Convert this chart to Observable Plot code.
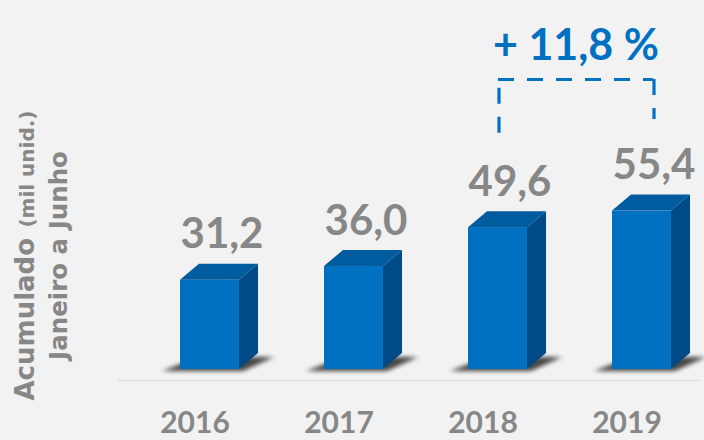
<!DOCTYPE html>
<html>
<head>
<meta charset="utf-8">
<script src="https://cdn.jsdelivr.net/npm/d3@7"></script>
<script src="https://cdn.jsdelivr.net/npm/@observablehq/plot@0.6"></script>
<style>
  html, body { margin: 0; padding: 0; background: #f2f2f2; }
  #chart { width: 704px; height: 440px; overflow: hidden; }
</style>
</head>
<body>
<div id="chart"></div>
<script>
// ---- data ----
const years = ["2016", "2017", "2018", "2019"];
const values = [31.2, 36.0, 49.6, 55.4];
const growthLabel = "+ 11,8 %";
const growthFrom = "2018";
const growthTo = "2019";
const axisTitle = "Acumulado";
const axisUnit = "(mil unid.)";
const axisSub = "Janeiro a Junho";

const data = years.map((year, i) => ({year, value: values[i]}));
const fmt = v => v.toFixed(1).replace(".", ",");

// ---- style ----
const FONT = "Lato, 'DejaVu Sans', sans-serif";
const TFONT = "'DejaVu Sans', sans-serif";
const GRAY = "#878787";
const BLUE = "#0070c0";
const TOP = "#005b9f";
const SIDE = "#004a85";
const DEPTH_X = 19, DEPTH_Y = 16;

function bar3d(index, scales, vals, dims, ctx, next) {
  const g = next(index, scales, vals, dims, ctx);
  const ns = "http://www.w3.org/2000/svg";
  const defs = document.createElementNS(ns, "defs");
  defs.innerHTML = '<filter id="shblur" x="-50%" y="-200%" width="200%" height="500%"><feGaussianBlur stdDeviation="2.2"/></filter>';
  g.insertBefore(defs, g.firstChild);
  const rects = Array.from(g.querySelectorAll("rect"));
  for (const r of rects) {
    const x = +r.getAttribute("x"), y = +r.getAttribute("y");
    const w = +r.getAttribute("width"), h = +r.getAttribute("height");
    const b = y + h;
    const poly = (pts, fill, extra) => {
      const p = document.createElementNS(ns, "polygon");
      p.setAttribute("points", pts.map(q => q.join(",")).join(" "));
      p.setAttribute("fill", fill);
      if (extra) for (const k in extra) p.setAttribute(k, extra[k]);
      return p;
    };
    const shadow = poly([[x - 18, b + 2], [x + w + 4, b + 2], [x + w + DEPTH_X + 16, b - DEPTH_Y + 4], [x + DEPTH_X, b - DEPTH_Y + 4]],
      "#2a2a2a", {filter: "url(#shblur)", opacity: 0.85});
    r.parentNode.insertBefore(shadow, r);
    const top = poly([[x, y], [x + DEPTH_X, y - DEPTH_Y], [x + w + DEPTH_X, y - DEPTH_Y], [x + w, y]], TOP);
    const side = poly([[x + w, y], [x + w + DEPTH_X, y - DEPTH_Y], [x + w + DEPTH_X, b - DEPTH_Y], [x + w, b]], SIDE);
    r.parentNode.appendChild(top);
    r.parentNode.appendChild(side);
  }
  return g;
}

const maxV = d3.max(values);
const legLeft = values[years.indexOf(growthFrom)] + 33;
const legRight = values[years.indexOf(growthTo)] + 32;
const bracketTop = maxV + 46;
const dash = {stroke: BLUE, strokeWidth: 3.2, strokeDasharray: "16,13"};

const chart = Plot.plot({
  width: 704,
  height: 440,
  marginLeft: 118,
  marginRight: 4,
  marginTop: 83,
  marginBottom: 71,
  style: {background: "#f2f2f2", fontFamily: FONT, fontWeight: "bold", color: GRAY, overflow: "visible"},
  x: {domain: years, paddingInner: 0.593, paddingOuter: 0.3035, align: 0.68, axis: null, label: null},
  y: {domain: [0, 100], axis: null, label: null},
  marks: [
    Plot.ruleY([0], {dy: 11, stroke: "#dddddd", strokeWidth: 1.5}),
    Plot.axisX({tickSize: 0, tickPadding: 42, fontSize: 30, fontWeight: "bold", fill: GRAY, dx: -15, fontFamily: FONT, label: null}),
    Plot.barY(data, {x: "year", y: "value", fill: BLUE, render: bar3d}),
    Plot.text(data, {x: "year", y: "value", text: d => fmt(d.value), dx: 12, dy: -32, lineAnchor: "bottom",
      fontSize: 42, fontWeight: "bold", fill: GRAY, fontFamily: FONT}),
    Plot.ruleX([growthFrom], {x: d => d, y1: legLeft, y2: bracketTop, dx: 1, ...dash}),
    Plot.ruleY([bracketTop], {x1: () => growthFrom, x2: () => growthTo, insetLeft: 30, insetRight: 18, ...dash}),
    Plot.ruleX([growthTo], {x: d => d, y1: bracketTop, y2: legRight, dx: 12, ...dash}),
    Plot.text([growthLabel], {x: [growthFrom], text: d => d, frameAnchor: "top", lineAnchor: "bottom", dx: 78, dy: -24,
      fontSize: 43, fontWeight: "bold", fill: BLUE, fontFamily: FONT}),
    Plot.text([axisTitle], {frameAnchor: "left", rotate: -90, textAnchor: "start", lineAnchor: "middle", dx: -93, dy: 174,
      fontSize: 26, fontWeight: "bold", fill: GRAY, fontFamily: TFONT}),
    Plot.text([axisUnit], {frameAnchor: "left", rotate: -90, textAnchor: "end", lineAnchor: "middle", dx: -91, dy: -116,
      fontSize: 20, fontWeight: "bold", fill: GRAY, fontFamily: TFONT}),
    Plot.text([axisSub], {frameAnchor: "left", rotate: -90, textAnchor: "middle", lineAnchor: "middle", dx: -59, dy: 29,
      fontSize: 24.5, fontWeight: "bold", fill: GRAY, fontFamily: TFONT})
  ]
});
document.getElementById("chart").appendChild(chart);
</script>
</body>
</html>
